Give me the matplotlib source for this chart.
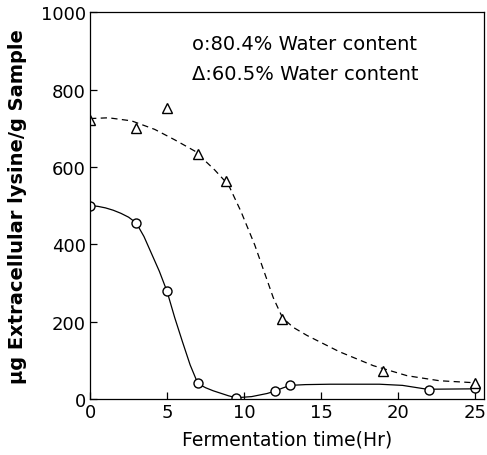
import matplotlib.pyplot as plt

# measured points
t_80 = [0, 3, 5, 7, 9.5, 12, 13, 22, 25]
lys_80 = [500, 455, 278, 40, 3, 20, 35, 23, 27]
t_60 = [0, 3, 5, 7, 8.8, 12.5, 19, 25]
lys_60 = [722, 700, 752, 634, 564, 207, 72, 42]

# hand-drawn trend curves
curve80_t = [0, 0.5, 1, 1.5, 2, 2.5, 3, 3.5, 4, 4.5, 5, 5.5, 6, 6.5, 7, 7.5, 8, 9, 9.5,
             10.5, 11.5, 12, 12.5, 13, 14, 15.6, 18.8, 20.3, 21.9, 24.8]
curve80_y = [500, 498, 494, 488, 480, 470, 455, 420, 375, 330, 278, 210, 148, 88, 40, 29, 21, 8, 3,
             6, 14, 20, 28, 35, 37, 38, 38, 35, 25, 26]
curve60_t = [0, 1.2, 2.7, 4.2, 5.5, 6.8, 8.1, 9.0, 9.8, 10.7, 11.3, 11.9, 12.5, 13.2, 14.1, 16.2,
             18.4, 20.6, 22.7, 24.9]
curve60_y = [725, 727, 719, 697, 670, 641, 592, 553, 485, 398, 330, 262, 210, 185, 164, 122,
             86, 60, 47, 42]

plt.rcParams['font.family'] = 'DejaVu Sans'
fig = plt.figure(figsize=(4.87, 4.56), dpi=100)
ax = fig.add_axes([0.185, 0.123, 0.809, 0.848])

ax.plot(curve80_t, curve80_y, color='black', lw=0.9)
ax.plot(curve60_t, curve60_y, color='black', lw=0.9, dashes=(5, 3.5))
ax.plot(t_80, lys_80, 'o', mfc='white', mec='black', mew=1.0, ms=6.5)
ax.plot(t_60, lys_60, '^', mfc='white', mec='black', mew=1.0, ms=7)

ax.set_xlim(0, 25.6)
ax.set_ylim(0, 1000)
ax.set_xticks([0, 5, 10, 15, 20, 25])
ax.set_yticks([0, 200, 400, 600, 800, 1000])
ax.tick_params(direction='in', length=5, width=0.9, labelsize=13, pad=3)
for s in ax.spines.values():
    s.set_linewidth(0.9)

ax.set_xlabel('Fermentation time(Hr)', fontsize=13.5, labelpad=6)
ax.set_ylabel('\u00b5g Extracellular lysine/g Sample', fontsize=14, fontweight='bold', labelpad=10)

ax.text(6.6, 920, 'o:80.4% Water content', fontsize=14, va='center')
ax.text(6.6, 842, '\u0394:60.5% Water content', fontsize=14, va='center')

fig.savefig('out.png', dpi=100)
